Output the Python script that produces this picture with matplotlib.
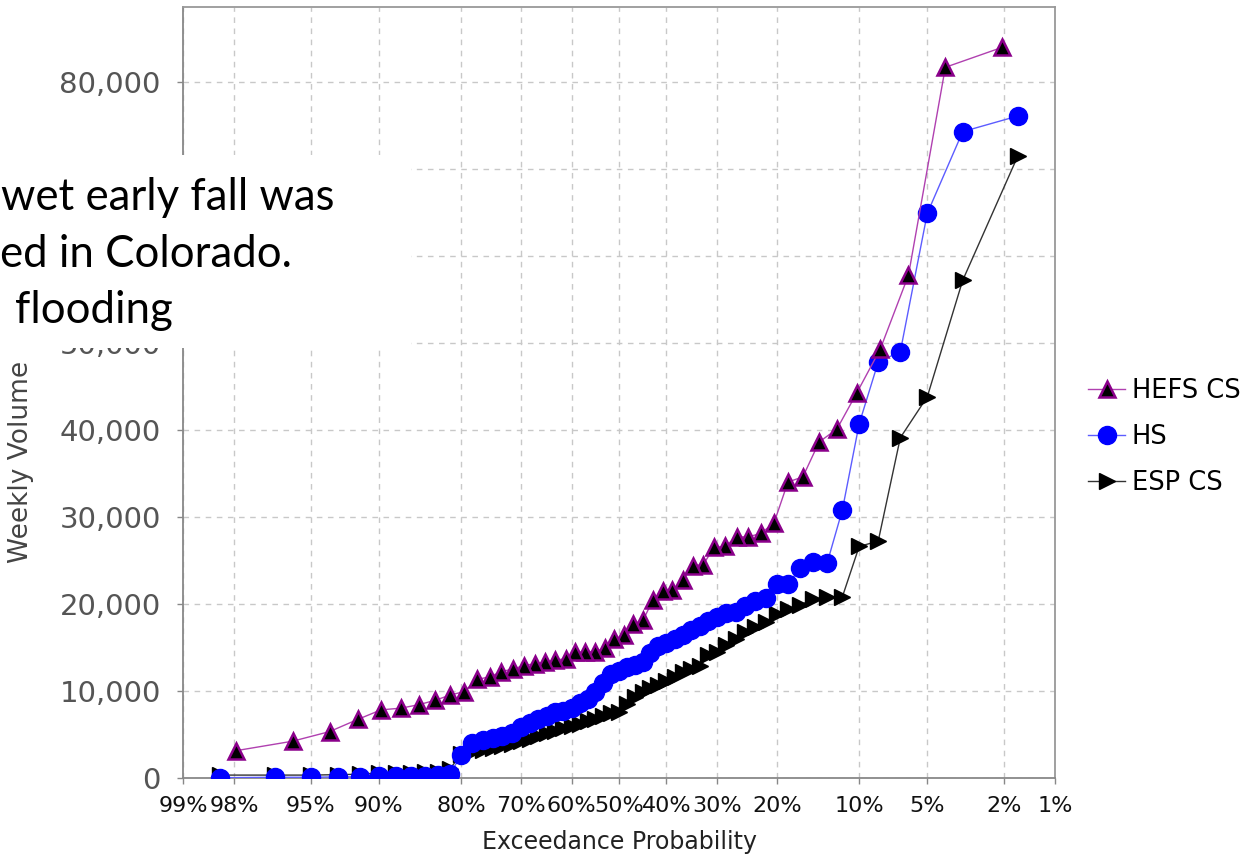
import numpy as np
import matplotlib
matplotlib.use("Agg")
import matplotlib.pyplot as plt
from matplotlib.patches import Rectangle
from matplotlib.ticker import FixedLocator, FixedFormatter, StrMethodFormatter
from statistics import NormalDist

# weekly volumes, sorted from largest to smallest (rank 1 = largest)
hefs_cs = [84000, 81700, 57800, 49300, 44300, 40100, 38600, 34600, 34000, 29300,
           28100, 27700, 27700, 26600, 26500, 24500, 24400, 22700, 21600, 21500,
           20400, 18100, 17700, 16400, 15900, 14900, 14500, 14500, 14400, 13700,
           13500, 13300, 13100, 12900, 12500, 12200, 11600, 11300, 9900, 9500,
           8900, 8400, 8000, 7800, 6700, 5300, 4200, 3100]

hs = [76100, 74300, 64900, 49000, 47800, 40700, 30800, 24700, 24800, 24100,
      22300, 22300, 20700, 20300, 19700, 19100, 18900, 18500, 18000, 17400,
      17000, 16400, 16000, 15500, 15100, 14300, 13300, 13000, 12700, 12300,
      11900, 10900, 9800, 9000, 8600, 8000, 7700, 7500, 7100, 6800,
      6300, 5800, 5100, 4800, 4600, 4300, 4000, 2600, 400, 300,
      250, 200, 200, 150, 100, 100, 50, 50, 0]

esp_cs = [71500, 57200, 43800, 39100, 27200, 26600, 20800, 20800, 20500, 19900,
          19400, 18800, 17900, 17300, 16700, 16000, 15300, 14500, 14100, 12800,
          12500, 12100, 11600, 11100, 10700, 10300, 9900, 9300, 8500, 7600,
          7400, 7100, 6800, 6500, 6200, 6000, 5700, 5400, 5100, 4800,
          4500, 4200, 3900, 3600, 3400, 3200, 3000, 2700, 1000, 600,
          600, 550, 550, 550, 400, 350, 300, 300, 300]

prob_ticks = [99, 98, 95, 90, 80, 70, 60, 50, 40, 30, 20, 10, 5, 2, 1]
prob_labels = [f"{p}%" for p in prob_ticks]
volume_ticks = [0, 10000, 20000, 30000, 40000, 50000, 60000, 70000, 80000]


def exceedance(values):
    # Weibull plotting position, in percent
    n = len(values)
    return 100.0 * np.arange(1, n + 1) / (n + 1)


nd = NormalDist()
_ppf = np.vectorize(nd.inv_cdf, otypes=[float])
_cdf = np.vectorize(nd.cdf, otypes=[float])


def to_normal(p):
    p = np.clip(np.asarray(p, dtype=float), 1e-6, 100 - 1e-6)
    return _ppf(p / 100.0)


def from_normal(z):
    return 100.0 * _cdf(np.asarray(z, dtype=float))


fig = plt.figure(figsize=(12.51, 8.56), dpi=100)
ax = fig.add_axes([183 / 1251, 1 - 777.7 / 856, 872 / 1251, 770.4 / 856])
ax.set_xscale("function", functions=(to_normal, from_normal))

ax.plot(exceedance(esp_cs), esp_cs, color="#333333", lw=1, marker=">",
        ms=12, mfc="black", mec="black", label="ESP CS", zorder=3)
ax.plot(exceedance(hs), hs, color="#5c5cff", lw=1, marker="o",
        ms=13, mfc="#0000ff", mec="#0000ff", label="HS", zorder=4)
ax.plot(exceedance(hefs_cs), hefs_cs, color="#b040b0", lw=1, marker="^",
        ms=11.5, mfc="black", mec="#8b008b", mew=1.8, label="HEFS CS", zorder=5)

ax.set_xlim(99, 1)
ax.set_ylim(0, 88600)

ax.xaxis.set_major_locator(FixedLocator(prob_ticks))
ax.xaxis.set_major_formatter(FixedFormatter(prob_labels))
ax.xaxis.set_minor_locator(FixedLocator([]))
ax.yaxis.set_major_locator(FixedLocator(volume_ticks))
ax.yaxis.set_major_formatter(StrMethodFormatter("{x:,.0f}"))

ax.grid(True, color="#c8c8c8", lw=1, ls=(0, (4, 4)))
ax.set_axisbelow(True)
for side in ["left", "bottom", "top", "right"]:
    ax.spines[side].set_color("#999999")
    ax.spines[side].set_linewidth(1.3)
ax.spines["left"].set_color("#888888")
ax.spines["bottom"].set_color("#888888")

ax.tick_params(axis="y", length=4, width=1, color="#888888", pad=12,
               labelsize=21, labelcolor="#555555")
ax.tick_params(axis="x", length=4, width=1, color="#888888", pad=9,
               labelsize=16, labelcolor="#111111")

# 60,000 and 70,000 sit entirely under the text box
for tick in ax.yaxis.get_major_ticks()[6:8]:
    tick.label1.set_visible(False)

ax.set_xlabel("Exceedance Probability", fontsize=17, color="#222222", labelpad=10)
ax.set_ylabel("Weekly Volume", fontsize=19, color="#444444")
ax.yaxis.set_label_coords(-0.171, 0.41)

handles, labels = ax.get_legend_handles_labels()
fig.legend(handles[::-1], labels[::-1], loc="center left",
           bbox_to_anchor=(1088 / 1251, 1 - 437 / 856), frameon=False,
           fontsize=18.5, handlelength=1.45, handletextpad=0.25,
           labelspacing=0.78, borderpad=0, borderaxespad=0)

# slide text box laid over the chart's upper left corner
fig.patches.append(Rectangle((0, 1 - 348 / 856), 411 / 1251, 193 / 856,
                             transform=fig.transFigure, facecolor="white",
                             edgecolor="none", zorder=10))
note_font = dict(family=["Lato", "DejaVu Sans"], fontsize=31.5, color="black",
                 va="baseline", ha="left", zorder=11)
fig.text(1 / 1251, 1 - 210 / 856, "wet early fall was", **note_font)
fig.text(0 / 1251, 1 - 266.7 / 856, "ed in Colorado.", **note_font)
fig.text(15 / 1251, 1 - 323.3 / 856, "flooding", **note_font)

fig.savefig("out.png", dpi=100)
